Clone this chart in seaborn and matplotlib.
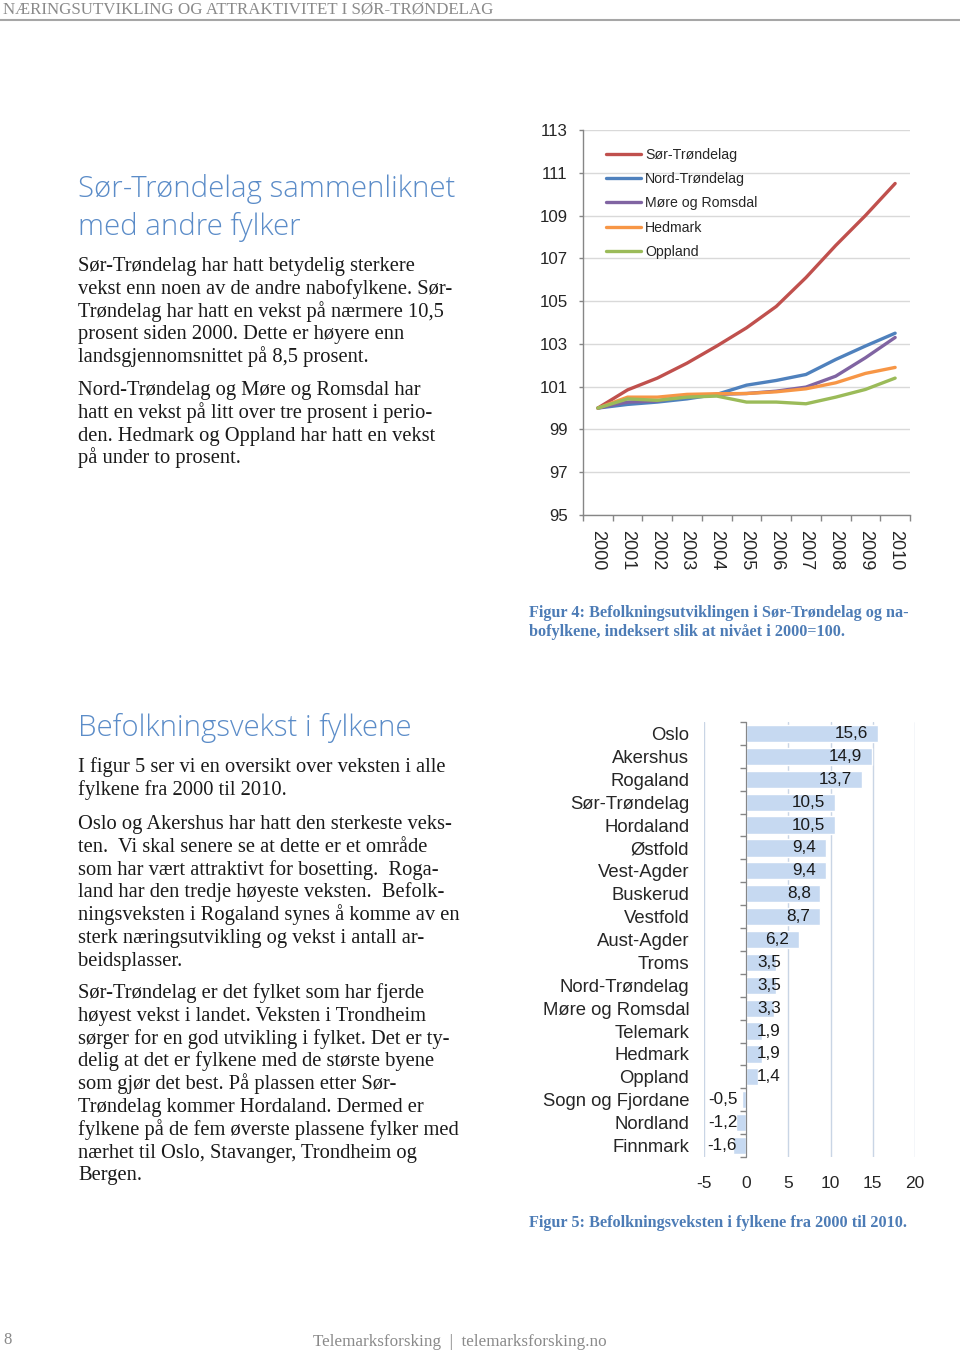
import pandas as pd
import matplotlib
matplotlib.use("Agg")
import matplotlib.pyplot as plt
import seaborn as sns

# Data
years = [2000, 2001, 2002, 2003, 2004, 2005, 2006, 2007, 2008, 2009, 2010]
sor_trondelag = [100.0, 100.85, 101.4, 102.1, 102.9, 103.75, 104.75, 106.1, 107.6, 109.0, 110.5]
nord_trondelag = [100.0, 100.17, 100.28, 100.43, 100.64, 101.07, 101.29, 101.57, 102.27, 102.9, 103.5]
more_romsdal = [100.0, 100.28, 100.33, 100.56, 100.64, 100.68, 100.79, 100.98, 101.49, 102.35, 103.3]
hedmark = [100.0, 100.51, 100.51, 100.64, 100.67, 100.68, 100.76, 100.9, 101.18, 101.62, 101.9]
oppland = [100.0, 100.43, 100.36, 100.51, 100.56, 100.28, 100.28, 100.2, 100.51, 100.87, 101.4]
serier = ['Sør-Trøndelag', 'Nord-Trøndelag', 'Møre og Romsdal', 'Hedmark', 'Oppland']
farger = ['#c0504d', '#4f81bd', '#8064a2', '#f79646', '#9bbb59']
y_ticks = [95, 97, 99, 101, 103, 105, 107, 109, 111, 113]

fylker = ['Oslo', 'Akershus', 'Rogaland', 'Sør-Trøndelag', 'Hordaland', 'Østfold',
          'Vest-Agder', 'Buskerud', 'Vestfold', 'Aust-Agder', 'Troms', 'Nord-Trøndelag',
          'Møre og Romsdal', 'Telemark', 'Hedmark', 'Oppland', 'Sogn og Fjordane',
          'Nordland', 'Finnmark']
vekst = [15.6, 14.9, 13.7, 10.5, 10.5, 9.4, 9.4, 8.8, 8.7, 6.2, 3.5, 3.5, 3.3,
         1.9, 1.9, 1.4, -0.5, -1.2, -1.6]
x_ticks = [-5, 0, 5, 10, 15, 20]

sns.set_style('white')
plt.rcParams['font.family'] = ['Liberation Sans', 'DejaVu Sans']

W, H = 960, 1350
fig = plt.figure(figsize=(W / 100, H / 100), dpi=100)

SERIF = ['Liberation Serif', 'DejaVu Serif']
HEAD = ['Open Sans', 'DejaVu Sans']
BLUE_HEAD = '#5b8cc8'
BLUE_CAP = '#4d7cb6'
BODY = 14.8


def txt(x, y, s, **kw):
    fig.text(x / W, 1 - y / H, s, **kw)


# Header and footer
txt(3, 14, 'NÆRINGSUTVIKLING OG ATTRAKTIVITET I SØR-TRØNDELAG', family=SERIF,
    fontsize=12.2, color='#8a8a8a', va='baseline')
fig.add_artist(plt.Line2D([0, 1], [1 - 20 / H, 1 - 20 / H], color='#a6a6a6', lw=1.5))
txt(3, 1344, '8', family=SERIF, fontsize=12, color='#8a8a8a', va='baseline')
txt(460, 1346, 'Telemarksforsking  |  telemarksforsking.no', family=SERIF,
    fontsize=12.3, color='#8a8a8a', va='baseline', ha='center')

# Left column text, block 1
txt(78, 197, 'Sør-Trøndelag sammenliknet', family=HEAD, fontweight='light',
    fontsize=21.2, color=BLUE_HEAD, va='baseline')
txt(78, 235, 'med andre fylker', family=HEAD, fontweight='light',
    fontsize=21.2, color=BLUE_HEAD, va='baseline')

para1 = ['Sør-Trøndelag har hatt betydelig sterkere',
         'vekst enn noen av de andre nabofylkene. Sør-',
         'Trøndelag har hatt en vekst på nærmere 10,5',
         'prosent siden 2000. Dette er høyere enn',
         'landsgjennomsnittet på 8,5 prosent.']
para2 = ['Nord-Trøndelag og Møre og Romsdal har',
         'hatt en vekst på litt over tre prosent i perio-',
         'den. Hedmark og Oppland har hatt en vekst',
         'på under to prosent.']
LS = 22.8
for i, line in enumerate(para1):
    txt(78, 271 + i * LS, line, family=SERIF, fontsize=BODY, color='#1a1a1a', va='baseline')
for i, line in enumerate(para2):
    txt(78, 395 + i * LS, line, family=SERIF, fontsize=BODY, color='#1a1a1a', va='baseline')

# Left column text, block 2
txt(78, 736, 'Befolkningsvekst i fylkene', family=HEAD, fontweight='light',
    fontsize=21.2, color=BLUE_HEAD, va='baseline')
para3 = ['I figur 5 ser vi en oversikt over veksten i alle',
         'fylkene fra 2000 til 2010.']
para4 = ['Oslo og Akershus har hatt den sterkeste veks-',
         'ten.  Vi skal senere se at dette er et område',
         'som har vært attraktivt for bosetting.  Roga-',
         'land har den tredje høyeste veksten.  Befolk-',
         'ningsveksten i Rogaland synes å komme av en',
         'sterk næringsutvikling og vekst i antall ar-',
         'beidsplasser.']
para5 = ['Sør-Trøndelag er det fylket som har fjerde',
         'høyest vekst i landet. Veksten i Trondheim',
         'sørger for en god utvikling i fylket. Det er ty-',
         'delig at det er fylkene med de største byene',
         'som gjør det best. På plassen etter Sør-',
         'Trøndelag kommer Hordaland. Dermed er',
         'fylkene på de fem øverste plassene fylker med',
         'nærhet til Oslo, Stavanger, Trondheim og',
         'Bergen.']
for i, line in enumerate(para3):
    txt(78, 772 + i * LS, line, family=SERIF, fontsize=BODY, color='#1a1a1a', va='baseline')
for i, line in enumerate(para4):
    txt(78, 829 + i * LS, line, family=SERIF, fontsize=BODY, color='#1a1a1a', va='baseline')
for i, line in enumerate(para5):
    txt(78, 998 + i * LS, line, family=SERIF, fontsize=BODY, color='#1a1a1a', va='baseline')

# Captions
txt(529, 617, 'Figur 4: Befolkningsutviklingen i Sør-Trøndelag og na-', family=SERIF,
    fontweight='bold', fontsize=11.7, color=BLUE_CAP, va='baseline')
txt(529, 636, 'bofylkene, indeksert slik at nivået i 2000=100.', family=SERIF,
    fontweight='bold', fontsize=11.7, color=BLUE_CAP, va='baseline')
txt(529, 1227, 'Figur 5: Befolkningsveksten i fylkene fra 2000 til 2010.', family=SERIF,
    fontweight='bold', fontsize=11.7, color=BLUE_CAP, va='baseline')

# Figure 4: line chart
ax1 = fig.add_axes([583 / W, 1 - 515 / H, 327 / W, 385 / H])
df = pd.DataFrame({
    'år': years * 5,
    'indeks': sor_trondelag + nord_trondelag + more_romsdal + hedmark + oppland,
    'fylke': [s for s in serier for _ in years],
})
sns.lineplot(data=df, x='år', y='indeks', hue='fylke', hue_order=serier,
             palette=farger, linewidth=2.4, ax=ax1)
ax1.set_xlim(years[0] - 0.5, years[-1] + 0.5)
ax1.set_ylim(y_ticks[0], y_ticks[-1])
ax1.set_yticks(y_ticks)
ax1.set_xticks(years)
ax1.set_xticks([y - 0.5 for y in years] + [years[-1] + 0.5], minor=True)
ax1.set_xticklabels([str(y) for y in years], rotation=-90)
ax1.tick_params(axis='x', which='major', bottom=True, length=0, pad=11, labelsize=13)
ax1.tick_params(axis='x', which='minor', bottom=True, length=4, width=1,
                color='#868686', direction='out')
ax1.tick_params(axis='y', left=True, length=3, width=1, color='#868686',
                direction='out', pad=8, labelsize=12.2)
ax1.set_xlabel('')
ax1.set_ylabel('')
ax1.yaxis.grid(True, color='#d9d9d9', lw=1)
ax1.xaxis.grid(False)
for s in ['top', 'right']:
    ax1.spines[s].set_visible(False)
for s in ['left', 'bottom']:
    ax1.spines[s].set_color('#868686')
    ax1.spines[s].set_linewidth(1)
ax1.legend(loc='upper left', bbox_to_anchor=(606 / W, 1 - 148 / H),
           bbox_transform=fig.transFigure, frameon=False, fontsize=10.2,
           handlelength=2.5, handletextpad=0.25, labelspacing=0.72,
           borderpad=0, borderaxespad=0)

# Figure 5: horizontal bar chart
ax2 = fig.add_axes([704 / W, 1 - 1157 / H, 211 / W, 435 / H])
bar_df = pd.DataFrame({'fylke': fylker, 'vekst': vekst})
sns.barplot(data=bar_df, x='vekst', y='fylke', order=fylker, orient='h',
            color='#c6d9f1', saturation=1, width=0.75, ax=ax2)
ax2.spines['left'].set_position(('data', 0))
ax2.set_xlim(x_ticks[0], x_ticks[-1])
ax2.set_ylim(len(fylker) - 0.5, -0.5)
ax2.set_xticks(x_ticks)
ax2.set_xticklabels([str(t) for t in x_ticks])
ax2.tick_params(axis='x', length=0, pad=14, labelsize=12.5)
ax2.set_yticks(range(len(fylker)))
ax2.set_yticklabels(fylker)
ax2.set_yticks([i - 0.5 for i in range(len(fylker) + 1)], minor=True)
ax2.tick_params(axis='y', which='major', length=0, pad=41, labelsize=13.3)
ax2.tick_params(axis='y', which='minor', left=True, length=4, width=1,
                color='#868686', direction='out')
ax2.set_xlabel('')
ax2.set_ylabel('')
ax2.xaxis.grid(True, color='#c9d5e5', lw=1)
ax2.yaxis.grid(False)
for s in ['top', 'right', 'bottom']:
    ax2.spines[s].set_visible(False)
ax2.spines['left'].set_color('#868686')
for i, v in enumerate(vekst):
    label = f'{v:.1f}'.replace('.', ',')
    xr = max(v - 1.15, 4.1) if v > 0 else -1.07
    ax2.text(xr, i, label, ha='right', va='center', fontsize=12.3, color='#1a1a1a')

fig.savefig('out.png', dpi=100)
